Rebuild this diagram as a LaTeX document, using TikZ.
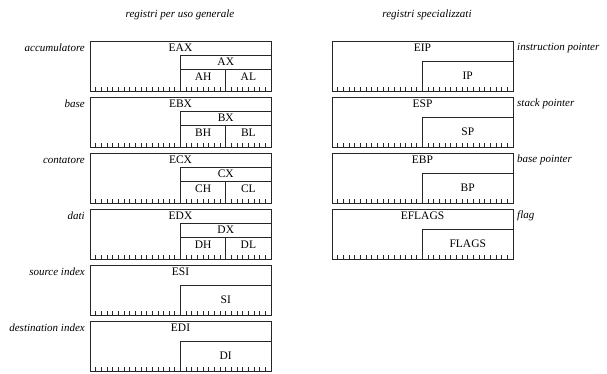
\documentclass[tikz,border=0pt]{standalone}
\usepackage{fontspec}
\setmainfont{Liberation Serif}
\begin{document}
\begin{tikzpicture}[x=1pt,y=-1pt,
  reg/.style={draw=black!85,line width=0.8pt},
  tickline/.style={draw=black!85,line width=0.7pt},
  lab/.style={font=\fontsize{11}{13}\selectfont\itshape,inner sep=0pt},
  nm/.style={font=\fontsize{11.5}{13}\selectfont,inner sep=0pt}]
\useasboundingbox (0,0) rectangle (607,373);
\node[lab] (h1) at (180,15) {registri per uso generale};
\node[lab] (h2) at (427,15) {registri specializzati};
% general purpose registers with 8-bit halves
\foreach \t/\r/\l in {41/A/accumulatore, 97/B/base, 153/C/contatore, 209/D/dati} {
  \draw[reg] (90,\t) rectangle (271,\t+50);
  \draw[reg] (180.5,\t+50) |- (271,\t+14);
  \draw[reg] (180.5,\t+28) -- (271,\t+28);
  \draw[reg] (225.75,\t+28) -- (225.75,\t+50);
  \node[nm] (e\r x) at (180.5,\t+7) {E\r X};
  \node[nm] (\r x) at (225.75,\t+21) {\r X};
  \node[nm] (\r h) at (203.1,\t+36) {\r H};
  \node[nm] (\r l) at (248.4,\t+36) {\r L};
  \node[lab,anchor=east] (lab\r) at (85,\t+7) {\l};
  \foreach \k in {1,...,31} {
    \ifnum\k=16\else\ifnum\k=24\else
      \draw[tickline] (90+\k*5.656,\t+50) -- ++(0,-4);
    \fi\fi
  }
}
% index registers
\foreach \t/\r/\l in {265/S/source index, 321/D/destination index} {
  \draw[reg] (90,\t) rectangle (271,\t+50);
  \draw[reg] (180.5,\t+50) |- (271,\t+20);
  \node[nm] (e\r i) at (180.5,\t+7) {E\r I};
  \node[nm] (\r i) at (225.75,\t+35) {\r I};
  \node[lab,anchor=east] (lab\r i) at (85,\t+7) {\l};
  \foreach \k in {1,...,31} {
    \ifnum\k=16\else
      \draw[tickline] (90+\k*5.656,\t+50) -- ++(0,-4);
    \fi
  }
}
% special registers
\foreach \t/\r/\l in {41/IP/instruction pointer, 97/SP/stack pointer, 153/BP/base pointer, 209/FLAGS/flag} {
  \draw[reg] (332,\t) rectangle (513,\t+50);
  \draw[reg] (422.5,\t+50) |- (513,\t+20);
  \node[nm] (e\r) at (422.5,\t+7) {E\r};
  \node[nm] (\r) at (467.75,\t+35) {\r};
  \node[lab,anchor=west] (lab\r) at (517,\t+7) {\l};
  \foreach \k in {1,...,31} {
    \ifnum\k=16\else
      \draw[tickline] (332+\k*5.656,\t+50) -- ++(0,-4);
    \fi
  }
}
\end{tikzpicture}
\end{document}
